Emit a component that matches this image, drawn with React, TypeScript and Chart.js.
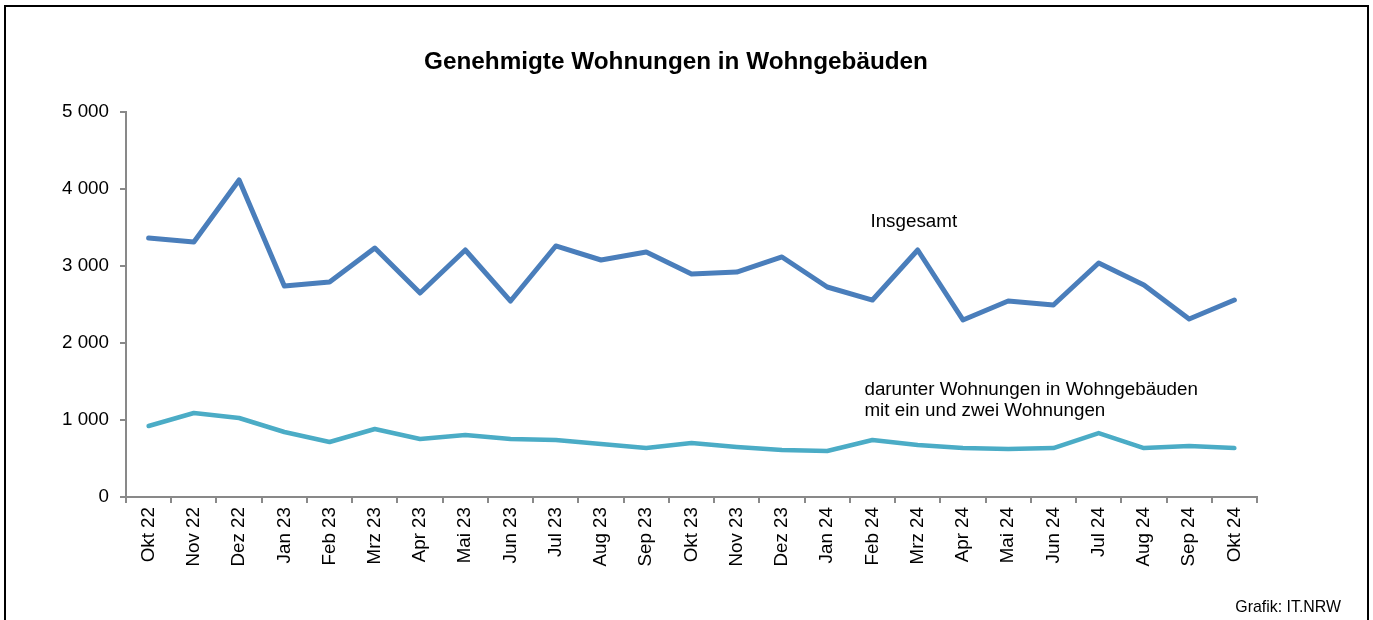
import React, { useEffect, useRef } from "react";
import { Chart, registerables } from "chart.js";

Chart.register(...registerables);

const categories = [
  "Okt 22", "Nov 22", "Dez 22", "Jan 23", "Feb 23", "Mrz 23", "Apr 23", "Mai 23", "Jun 23",
  "Jul 23", "Aug 23", "Sep 23", "Okt 23", "Nov 23", "Dez 23", "Jan 24", "Feb 24", "Mrz 24",
  "Apr 24", "Mai 24", "Jun 24", "Jul 24", "Aug 24", "Sep 24", "Okt 24",
];

const insgesamt = [
  3364, 3312, 4117, 2740, 2792, 3234, 2649, 3208, 2545, 3260, 3078, 3182, 2896, 2922, 3117,
  2727, 2558, 3208, 2299, 2545, 2494, 3039, 2753, 2312, 2558,
];

const einZwei = [
  922, 1091, 1026, 844, 714, 883, 753, 805, 753, 740, 688, 636, 701, 649, 610, 597, 740, 675,
  636, 623, 636, 831, 636, 662, 636,
];

const yTicks = [0, 1000, 2000, 3000, 4000, 5000];

const title = "Genehmigte Wohnungen in Wohngebäuden";
const labelTotal = "Insgesamt";
const labelSub = ["darunter Wohnungen in Wohngebäuden", "mit ein und zwei Wohnungen"];
const credit = "Grafik: IT.NRW";

const FONT = "'Liberation Sans', Arial, sans-serif";

const fmt = (v: number) => String(v).replace(/\B(?=(\d{3})+(?!\d))/g, " ");

const textPlugin = {
  id: "texts",
  afterDraw(chart: any) {
    const ctx = chart.ctx;
    const x = chart.scales.x;
    const y = chart.scales.y;
    ctx.save();
    ctx.fillStyle = "#000";
    ctx.textBaseline = "middle";
    ctx.font = `bold 24.3px ${FONT}`;
    ctx.textAlign = "center";
    ctx.fillText(title, 676, 62);
    ctx.font = `18.8px ${FONT}`;
    ctx.textAlign = "left";
    const xa = x.getPixelForValue(16);
    ctx.fillText(labelTotal, xa - 2, y.getPixelForValue(3570));
    ctx.fillText(labelSub[0], xa - 8, y.getPixelForValue(1390));
    ctx.fillText(labelSub[1], xa - 8, y.getPixelForValue(1117));
    ctx.font = `15.9px ${FONT}`;
    ctx.textAlign = "right";
    ctx.fillText(credit, 1341, 608);
    ctx.restore();
  },
};

export default function App() {
  const ref = useRef<HTMLCanvasElement | null>(null);
  useEffect(() => {
    document.body.style.margin = "0";
    const chart = new Chart(ref.current as HTMLCanvasElement, {
      type: "line",
      data: {
        labels: categories,
        datasets: [
          {
            label: labelTotal,
            data: insgesamt,
            borderColor: "#4a7ebb",
            borderWidth: 5,
            pointRadius: 0,
            tension: 0,
            borderJoinStyle: "round",
            borderCapStyle: "round",
          },
          {
            label: labelSub.join(" "),
            data: einZwei,
            borderColor: "#4bacc6",
            borderWidth: 4.5,
            pointRadius: 0,
            tension: 0,
            borderJoinStyle: "round",
            borderCapStyle: "round",
          },
        ],
      },
      options: {
        animation: false,
        responsive: false,
        layout: { padding: { top: 112, left: 0, right: 116, bottom: 0 } },
        plugins: { legend: { display: false }, tooltip: { enabled: false }, title: { display: false } },
        scales: {
          x: {
            offset: true,
            grid: { offset: true, drawOnChartArea: false, drawTicks: true, tickLength: 6, color: "#898989", lineWidth: 2 },
            border: { color: "#898989", width: 2 },
            ticks: {
              color: "#000",
              font: { size: 18.8, family: FONT },
              minRotation: 90,
              maxRotation: 90,
              padding: 4,
              autoSkip: false,
            },
            afterFit(scale: any) {
              scale.height = 123;
            },
          },
          y: {
            min: 0,
            max: 5000,
            afterBuildTicks(scale: any) {
              scale.ticks = yTicks.map((v) => ({ value: v }));
            },
            grid: { drawOnChartArea: false, drawTicks: true, tickLength: 6, color: "#898989", lineWidth: 2 },
            border: { color: "#898989", width: 2 },
            ticks: {
              color: "#000",
              font: { size: 18.8, family: FONT },
              padding: 11,
              callback: (v: any) => fmt(Number(v)),
            },
            afterFit(scale: any) {
              scale.width = 126;
            },
          },
        },
      },
      plugins: [textPlugin],
    } as any);
    return () => chart.destroy();
  }, []);

  return (
    <div style={{ position: "absolute", left: 0, top: 0, width: 1373, height: 620, overflow: "hidden", background: "#fff" }}>
      <canvas ref={ref} width={1373} height={620} style={{ position: "absolute", left: 0, top: 0 }} />
      <div
        style={{
          position: "absolute",
          left: 4,
          top: 5,
          width: 1361,
          height: 700,
          border: "2.5px solid #000",
          pointerEvents: "none",
        }}
      />
    </div>
  );
}
